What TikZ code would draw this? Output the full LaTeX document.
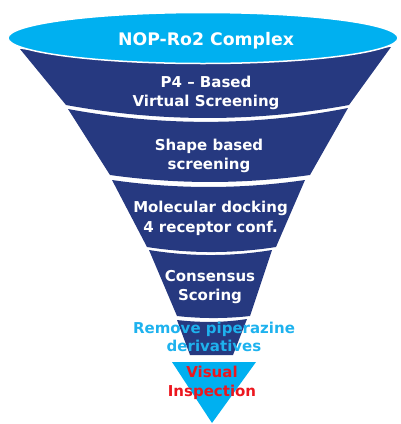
\documentclass[tikz,border=0pt]{standalone}
\usepackage{fontspec}
\setmainfont{DejaVu Sans}
\begin{document}
\definecolor{navy}{RGB}{38,57,128}
\definecolor{sky}{RGB}{0,176,240}
\definecolor{skytext}{RGB}{30,178,238}
\definecolor{alert}{RGB}{236,22,30}
\begin{tikzpicture}[x=1pt,y=-1pt,
  band/.style={fill=navy},
  lbl/.style={font=\bfseries\fontsize{15}{19}\selectfont, text=white,
    align=center, inner sep=0pt, anchor=base},
  title/.style={lbl, font=\bfseries\fontsize{17.3}{20}\selectfont}]
\useasboundingbox (0,0) rectangle (400,424);
% stage 1, its upper edge tucked under the rim
\path[band] (20,49) .. controls (140,60) and (270,60) .. (391,47)
  -- (349,105) .. controls (255,122.3) and (160,122.3) .. (66,105) -- cycle;
% stage 2
\path[band] (68,109) .. controls (161,126.3) and (255,126.3) .. (348,108)
  -- (310,175) .. controls (243,184.3) and (177,184.3) .. (110,175) -- cycle;
% stage 3
\path[band] (112,180) .. controls (176,189.3) and (241,189.3) .. (305,180)
  -- (276,247) .. controls (233,253.7) and (190,253.7) .. (147,247) -- cycle;
% stage 4
\path[band] (149,250) .. controls (190,256.7) and (231,256.7) .. (272,250)
  -- (250,316) .. controls (226,318.7) and (201,318.7) .. (177,316) -- cycle;
% stage 5
\path[band] (177,320) .. controls (200,322.7) and (224,322.7) .. (247,319)
  -- (233,355) -- (190,355) -- cycle;
% bottom tip
\path[fill=sky] (172,362) -- (256,362) -- (212,423) -- cycle;
% rim of the funnel
\draw[fill=sky, draw=white, line width=1.5pt] (203,38) ellipse [x radius=195, y radius=25.5];

% the anchor of each label sits on the baseline of its last line
\node[title] (t0) at (206,45) {NOP-Ro2 Complex};
\node[lbl] (t1) at (206,106) {P4 – Based\\Virtual Screening};
\node[lbl] (t2) at (209,169) {Shape based\\screening};
\node[lbl, font=\bfseries\fontsize{15}{20}\selectfont] (t3) at (210.5,232) {Molecular docking\\4 receptor conf.};
\node[lbl] (t4) at (210,300) {Consensus\\Scoring};
\node[lbl, text=skytext, font=\bfseries\fontsize{15}{18}\selectfont] (t5) at (214,351) {Remove piperazine\\derivatives};
\node[lbl, text=alert] (t6) at (212,396) {Visual\\Inspection};
\end{tikzpicture}
\end{document}
